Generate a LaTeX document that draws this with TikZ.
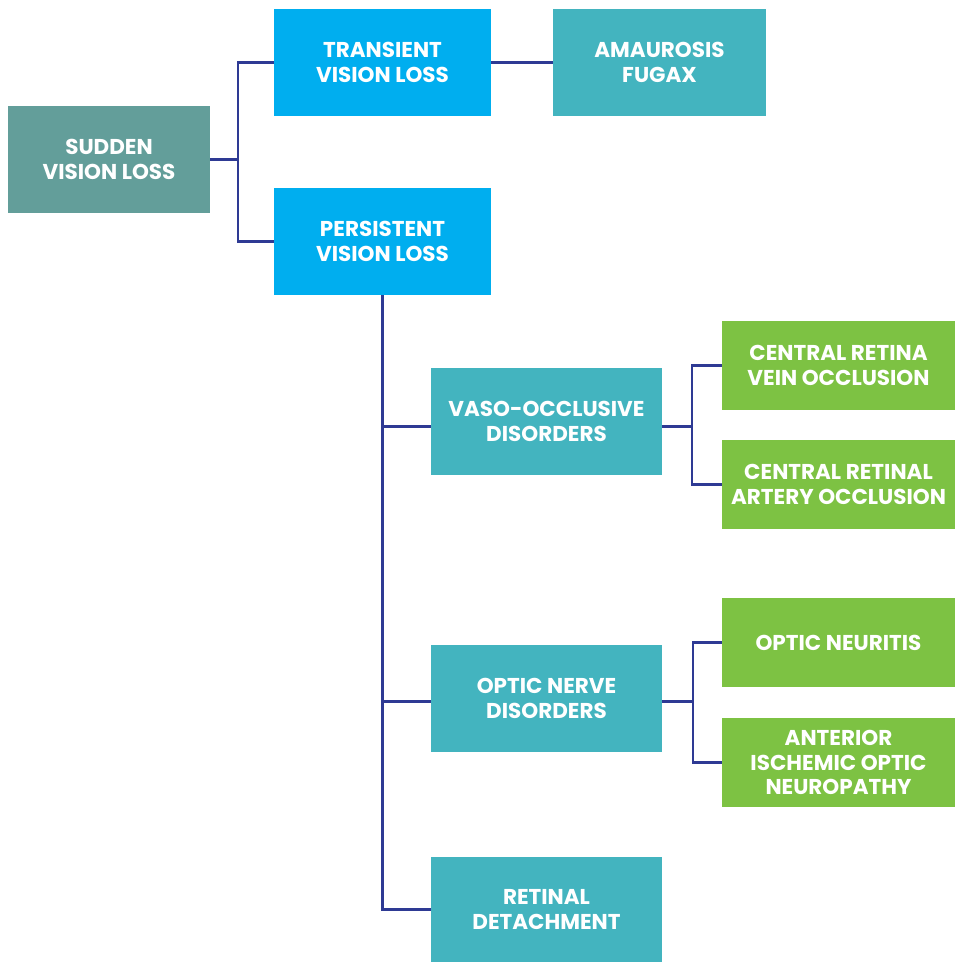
\documentclass[tikz,border=0pt]{standalone}
\usepackage{fontspec}
\setmainfont{Poppins}
\definecolor{rootgreen}{HTML}{639E9A}
\definecolor{skyblue}{HTML}{00AEEF}
\definecolor{tealbox}{HTML}{43B4BF}
\definecolor{leafgreen}{HTML}{7DC243}
\definecolor{linkblue}{HTML}{2E3A94}
\begin{document}
\begin{tikzpicture}[x=1pt,y=-1pt,
  box/.style={rectangle, inner sep=0pt, align=center, text=white,
    font=\bfseries\fontsize{21.5}{24.5}\selectfont},
  bigbox/.style={box, minimum height=107pt},
  leafbox/.style={box, fill=leafgreen, minimum width=233pt, minimum height=89pt},
  link/.style={draw=linkblue, line width=2.2pt}]
\useasboundingbox (0,0) rectangle (955,962);

% first level
\node[bigbox, fill=rootgreen, minimum width=202pt] (sudden) at (109,159.5) {SUDDEN\\VISION LOSS};
\node[bigbox, fill=skyblue, minimum width=217pt] (transient) at (382.5,62.5) {TRANSIENT\\VISION LOSS};
\node[bigbox, fill=skyblue, minimum width=217pt] (persistent) at (382.5,241.5) {PERSISTENT\\VISION LOSS};
\node[bigbox, fill=tealbox, minimum width=213pt] (amaurosis) at (659.5,62.5) {AMAUROSIS\\FUGAX};

% persistent causes
\node[bigbox, fill=tealbox, minimum width=231pt] (vaso) at (546.5,421.5) {VASO-OCCLUSIVE\\DISORDERS};
\node[bigbox, fill=tealbox, minimum width=231pt] (optic) at (546.5,698.5) {OPTIC NERVE\\DISORDERS};
\node[box, fill=tealbox, minimum width=231pt, minimum height=105pt] (retinal) at (546.5,909.5) {RETINAL\\DETACHMENT};

% leaves
\node[leafbox] (crvo) at (838.5,365.5) {CENTRAL RETINA\\VEIN OCCLUSION};
\node[leafbox] (crao) at (838.5,484.5) {CENTRAL RETINAL\\ARTERY OCCLUSION};
\node[leafbox] (neuritis) at (838.5,642.5) {OPTIC NEURITIS};
\node[leafbox] (aion) at (838.5,762.5) {ANTERIOR\\ISCHEMIC OPTIC\\NEUROPATHY};

% connectors
\draw[link] (sudden.east) -- ++(28,0) |- (transient.west);
\draw[link] (sudden.east) -- ++(28,0) |- (persistent.west);
\draw[link] (transient.east) -- (amaurosis.west);
\draw[link] (persistent.south) |- ([yshift=-5pt]vaso.west);
\draw[link] (persistent.south) |- ([yshift=-3pt]optic.west);
\draw[link] (persistent.south) |- (retinal.west);
\draw[link] ([yshift=-5pt]vaso.east) -- ++(30,0) |- (crvo.west);
\draw[link] ([yshift=-5pt]vaso.east) -- ++(30,0) |- (crao.west);
\draw[link] ([yshift=-3pt]optic.east) -- ++(31,0) |- (neuritis.west);
\draw[link] ([yshift=-3pt]optic.east) -- ++(31,0) |- (aion.west);
\end{tikzpicture}
\end{document}
